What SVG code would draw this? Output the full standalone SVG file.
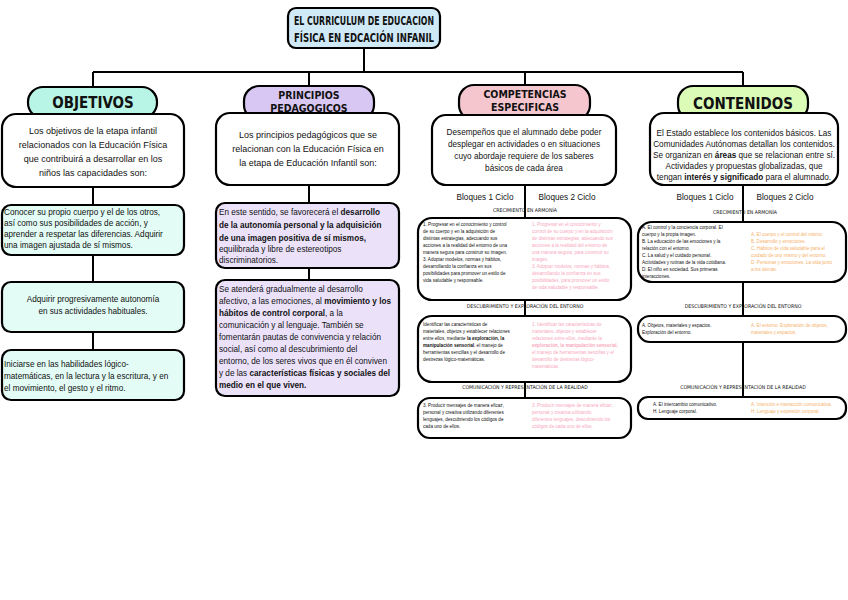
<svg xmlns="http://www.w3.org/2000/svg" width="848" height="600" viewBox="0 0 848 600">
<style>
.b{stroke:#000;stroke-width:2.2}
.ln{stroke:#000;stroke-width:2;fill:none}
.h{font-family:"DejaVu Sans Condensed","Liberation Sans",sans-serif;font-weight:bold;text-anchor:middle;fill:#111}
.t{font-family:"Liberation Sans",sans-serif;font-size:9px;fill:#111;text-anchor:middle}
.s{font-family:"Liberation Sans",sans-serif;font-size:4.6px;fill:#111}
.p{fill:#f7a8bd}
.o{fill:#f6b26b}
.k{font-family:"DejaVu Sans Condensed","Liberation Sans",sans-serif;font-size:5.2px;text-anchor:middle;fill:#111}
.m{font-family:"Liberation Sans",sans-serif;font-size:8.2px;fill:#111}
</style>
<rect width="848" height="600" fill="#fff"/>
<g id="connectors" class="ln">
<path d="M364 48V72M93 72H743M93 72V88M309 72V86M525 72V85M743 72V86"/>
<path d="M93 118V205M93 255V282M93 332V350M309 120V280M525 120V218M525 300V316M525 382V398M743 120V222M743 282V316M743 342V397"/>
</g>
<g id="title"><rect class="b" x="288" y="8" width="152" height="40" rx="8" fill="#cfe9f7"/>
<text class="h" font-size="11.5" x="364" y="25" textLength="140" lengthAdjust="spacingAndGlyphs">EL CURRICULUM DE EDUCACION</text>
<text class="h" font-size="11.5" x="364" y="42" textLength="140" lengthAdjust="spacingAndGlyphs">FÍSICA EN EDCACIÓN INFANIL</text></g>
<g id="objetivos"><rect class="b" x="28" y="87" width="129" height="31" rx="15" fill="#b8f5e6"/>
<text class="h" font-size="15" x="93" y="108">OBJETIVOS</text></g>
<g id="obj-text"><rect class="b" x="2" y="114" width="182" height="73" rx="14" fill="#fff"/>
<text class="t" x="93" y="134">Los objetivos de la etapa infantil</text>
<text class="t" x="93" y="148">relacionados con la Educación Física</text>
<text class="t" x="93" y="162">que contribuirá a desarrollar en los</text>
<text class="t" x="93" y="176">niños las capacidades son:</text></g>
<g id="obj1"><rect class="b" x="2" y="205" width="182" height="50" rx="9" fill="#e3fcf5"/>
<text class="m" x="4" y="215">Conocer su propio cuerpo y el de los otros,</text>
<text class="m" x="4" y="226">así como sus posibilidades de acción, y</text>
<text class="m" x="4" y="237">aprender a respetar las diferencias. Adquirir</text>
<text class="m" x="4" y="248">una imagen ajustada de sí mismos.</text></g>
<g id="obj2"><rect class="b" x="2" y="282" width="182" height="50" rx="9" fill="#e3fcf5"/>
<text class="m" x="93" y="302" text-anchor="middle">Adquirir progresivamente autonomía</text>
<text class="m" x="93" y="314" text-anchor="middle">en sus actividades habituales.</text></g>
<g id="obj3"><rect class="b" x="2" y="350" width="182" height="50" rx="9" fill="#e3fcf5"/>
<text class="m" x="4" y="367">Iniciarse en las habilidades lógico-</text>
<text class="m" x="4" y="379">matemáticas, en la lectura y la escritura, y en</text>
<text class="m" x="4" y="391">el movimiento, el gesto y el ritmo.</text></g>
<g id="principios"><rect class="b" x="244" y="86" width="130" height="34" rx="15" fill="#d9c7f3"/>
<text class="h" font-size="10.5" x="309" y="99">PRINCIPIOS</text>
<text class="h" font-size="10.5" x="309" y="112">PEDAGOGICOS</text></g>
<g id="pri-text"><rect class="b" x="216" y="113" width="183" height="72" rx="14" fill="#fff"/>
<text class="t" x="308" y="138">Los principios pedagógicos que se</text>
<text class="t" x="308" y="152">relacionan con la Educación Física en</text>
<text class="t" x="308" y="166">la etapa de Educación Infantil son:</text></g>
<g id="pri1"><rect class="b" x="216" y="203" width="183" height="65" rx="9" fill="#ebe2fa"/>
<text class="m" x="219" y="215">En este sentido, se favorecerá el <tspan font-weight="bold">desarrollo</tspan></text>
<text class="m" x="219" y="228" font-weight="bold">de la autonomía personal y la adquisición</text>
<text class="m" x="219" y="241" font-weight="bold">de una imagen positiva de sí mismos,</text>
<text class="m" x="219" y="252">equilibrada y libre de estereotipos</text>
<text class="m" x="219" y="263">discriminatorios.</text></g>
<g id="pri2"><rect class="b" x="216" y="280" width="183" height="116" rx="9" fill="#ebe2fa"/>
<text class="m" x="219" y="292">Se atenderá gradualmente al desarrollo</text>
<text class="m" x="219" y="304">afectivo, a las emociones, al <tspan font-weight="bold">movimiento y los</tspan></text>
<text class="m" x="219" y="316" font-weight="bold">hábitos de control corporal<tspan font-weight="normal">, a la</tspan></text>
<text class="m" x="219" y="328">comunicación y al lenguaje. También se</text>
<text class="m" x="219" y="340">fomentarán pautas de convivencia y relación</text>
<text class="m" x="219" y="352">social, así como al descubrimiento del</text>
<text class="m" x="219" y="364">entorno, de los seres vivos que en él conviven</text>
<text class="m" x="219" y="376">y de las <tspan font-weight="bold">características físicas y sociales del</tspan></text>
<text class="m" x="219" y="388" font-weight="bold">medio en el que viven.</text></g>
<g id="competencias"><rect class="b" x="459" y="85" width="131" height="35" rx="15" fill="#f6c6cf"/>
<text class="h" font-size="10.5" x="525" y="98">COMPETENCIAS</text>
<text class="h" font-size="10.5" x="525" y="111">ESPECIFICAS</text></g>
<g id="comp-text"><rect class="b" x="432" y="115" width="184" height="70" rx="14" fill="#fff"/>
<text class="m" x="524" y="135" text-anchor="middle">Desempeños que el alumnado debe poder</text>
<text class="m" x="524" y="147" text-anchor="middle">desplegar en actividades o en situaciones</text>
<text class="m" x="524" y="159" text-anchor="middle">cuyo abordaje requiere de los saberes</text>
<text class="m" x="524" y="171" text-anchor="middle">básicos de cada área</text></g>
<g id="comp-bloques"><text class="m" x="485" y="200" text-anchor="middle" font-size="7.5">Bloques 1 Ciclo</text>
<text class="m p" x="567" y="200" text-anchor="middle" font-size="7.5">Bloques 2 Ciclo</text>
<text class="k" x="525" y="212">CRECIMIENTO EN ARMONÍA</text></g>
<g id="comp1"><rect class="b" x="418" y="218" width="213" height="82" rx="14" fill="#fff"/>
<text class="s" x="423" y="226">1. Progresar en el conocimiento y control</text>
<text class="s" x="423" y="233">de su cuerpo y en la adquisición de</text>
<text class="s" x="423" y="240">distintas estrategias, adecuando sus</text>
<text class="s" x="423" y="247">acciones a la realidad del entorno de una</text>
<text class="s" x="423" y="254">manera segura para construir su imagen.</text>
<text class="s" x="423" y="261">3. Adoptar modelos, normas y hábitos,</text>
<text class="s" x="423" y="268">desarrollando la confianza en sus</text>
<text class="s" x="423" y="275">posibilidades para promover un estilo de</text>
<text class="s" x="423" y="282">vida saludable y responsable.</text>
<text class="s p" x="532" y="226">1. Progresar en el conocimiento y</text>
<text class="s p" x="532" y="233">control de su cuerpo y en la adquisición</text>
<text class="s p" x="532" y="240">de distintas estrategias, adecuando sus</text>
<text class="s p" x="532" y="247">acciones a la realidad del entorno de</text>
<text class="s p" x="532" y="254">una manera segura, para construir su</text>
<text class="s p" x="532" y="261">imagen.</text>
<text class="s p" x="532" y="268">3. Adoptar modelos, normas y hábitos,</text>
<text class="s p" x="532" y="275">desarrollando la confianza en sus</text>
<text class="s p" x="532" y="282">posibilidades, para promover un estilo</text>
<text class="s p" x="532" y="289">de vida saludable y responsable.</text></g>
<text class="k" x="525" y="308">DESCUBRIMIENTO Y EXPLORACIÓN DEL ENTORNO</text>
<g id="comp2"><rect class="b" x="418" y="316" width="213" height="66" rx="14" fill="#fff"/>
<text class="s" x="423" y="326">    Identificar las características de</text>
<text class="s" x="423" y="333">materiales, objetos y establecer relaciones</text>
<text class="s" x="423" y="340">entre ellos, mediante <tspan font-weight="bold">la exploración, la</tspan></text>
<text class="s" x="423" y="347" font-weight="bold">manipulación sensorial<tspan font-weight="normal">, el manejo de</tspan></text>
<text class="s" x="423" y="354">herramientas sencillas y el desarrollo de</text>
<text class="s" x="423" y="361">destrezas lógico-matemáticas.</text>
<text class="s p" x="532" y="326">1. Identificar las características de</text>
<text class="s p" x="532" y="333">materiales, objetos y establecer</text>
<text class="s p" x="532" y="340">relaciones entre ellos, mediante la</text>
<text class="s p" x="532" y="347" font-weight="bold">exploración, la manipulación sensorial,</text>
<text class="s p" x="532" y="354">el manejo de herramientas sencillas y el</text>
<text class="s p" x="532" y="361">desarrollo de destrezas lógico-</text>
<text class="s p" x="532" y="368">matemáticas.</text></g>
<text class="k" x="525" y="389">COMUNICACIÓN Y REPRESENTACIÓN DE LA REALIDAD</text>
<g id="comp3"><rect class="b" x="418" y="398" width="213" height="40" rx="12" fill="#fff"/>
<text class="s" x="423" y="407">3. Producir mensajes de manera eficaz,</text>
<text class="s" x="423" y="414">personal y creativa utilizando diferentes</text>
<text class="s" x="423" y="421">lenguajes, descubriendo los códigos de</text>
<text class="s" x="423" y="428">cada uno de ellos.</text>
<text class="s p" x="532" y="407">3. Producir mensajes de manera eficaz,</text>
<text class="s p" x="532" y="414">personal y creativa utilizando</text>
<text class="s p" x="532" y="421">diferentes lenguajes, descubriendo los</text>
<text class="s p" x="532" y="428">códigos de cada uno de ellos.</text></g>
<g id="contenidos"><rect class="b" x="678" y="86" width="130" height="34" rx="15" fill="#dafcb7"/>
<text class="h" font-size="15" x="743" y="109">CONTENIDOS</text></g>
<g id="cont-text"><rect class="b" x="650" y="113" width="188" height="72" rx="14" fill="#fff"/>
<text class="m" x="744" y="136" text-anchor="middle" font-size="7.4">El Estado establece los contenidos básicos. Las</text>
<text class="m" x="744" y="147" text-anchor="middle" font-size="7.4">Comunidades Autónomas detallan los contenidos.</text>
<text class="m" x="744" y="158" text-anchor="middle" font-size="7.4">Se organizan en <tspan font-weight="bold">áreas</tspan> que se relacionan entre sí.</text>
<text class="m" x="744" y="169" text-anchor="middle" font-size="7.4">Actividades y propuestas globalizadas, que</text>
<text class="m" x="744" y="180" text-anchor="middle" font-size="7.4">tengan <tspan font-weight="bold">interés y significado</tspan> para el alumnado.</text></g>
<g id="cont-bloques"><text class="m" x="705" y="200" text-anchor="middle" font-size="7.5">Bloques 1 Ciclo</text>
<text class="m o" x="785" y="200" text-anchor="middle" font-size="7.5">Bloques 2 Ciclo</text>
<text class="k" x="745" y="214">CRECIMIENTO EN ARMONÍA</text></g>
<g id="cont1"><rect class="b" x="638" y="222" width="208" height="60" rx="14" fill="#fff"/>
<text class="s" x="642" y="229">A. El control y la conciencia corporal. El</text>
<text class="s" x="642" y="236">cuerpo y la propia imagen.</text>
<text class="s" x="642" y="243">B. La educación de las emociones y la</text>
<text class="s" x="642" y="250">relación con el entorno.</text>
<text class="s" x="642" y="257">C. La salud y el cuidado personal.</text>
<text class="s" x="642" y="264">Actividades y rutinas de la vida cotidiana.</text>
<text class="s" x="642" y="271">D. El niño en sociedad. Sus primeras</text>
<text class="s" x="642" y="278">interacciones.</text>
<text class="s o" x="751" y="236">A. El cuerpo y el control del mismo.</text>
<text class="s o" x="751" y="243">B. Desarrollo y emociones.</text>
<text class="s o" x="751" y="250">C. Hábitos de vida saludable para el</text>
<text class="s o" x="751" y="257">cuidado de uno mismo y del entorno.</text>
<text class="s o" x="751" y="264">D. Personas y emociones. La vida junto</text>
<text class="s o" x="751" y="271">a los demás.</text></g>
<text class="k" x="743" y="308">DESCUBRIMIENTO Y EXPLORACIÓN DEL ENTORNO</text>
<g id="cont2"><rect class="b" x="638" y="316" width="208" height="26" rx="12" fill="#fff"/>
<text class="s" x="642" y="327">A. Objetos, materiales y espacios.</text>
<text class="s" x="642" y="334">Exploración del entorno.</text>
<text class="s o" x="751" y="327">A. El entorno. Exploración de objetos,</text>
<text class="s o" x="751" y="334">materiales y espacios.</text></g>
<text class="k" x="743" y="389">COMUNICACIÓN Y REPRESENTACIÓN DE LA REALIDAD</text>
<g id="cont3"><rect class="b" x="638" y="397" width="208" height="22" rx="10" fill="#fff"/>
<text class="s" x="653" y="406">A. El intercambio comunicativo.</text>
<text class="s" x="653" y="413">H. Lenguaje corporal.</text>
<text class="s o" x="751" y="406">A. Intención e interacción comunicativa.</text>
<text class="s o" x="751" y="413">H. Lenguaje y expresión corporal.</text></g>
</svg>
